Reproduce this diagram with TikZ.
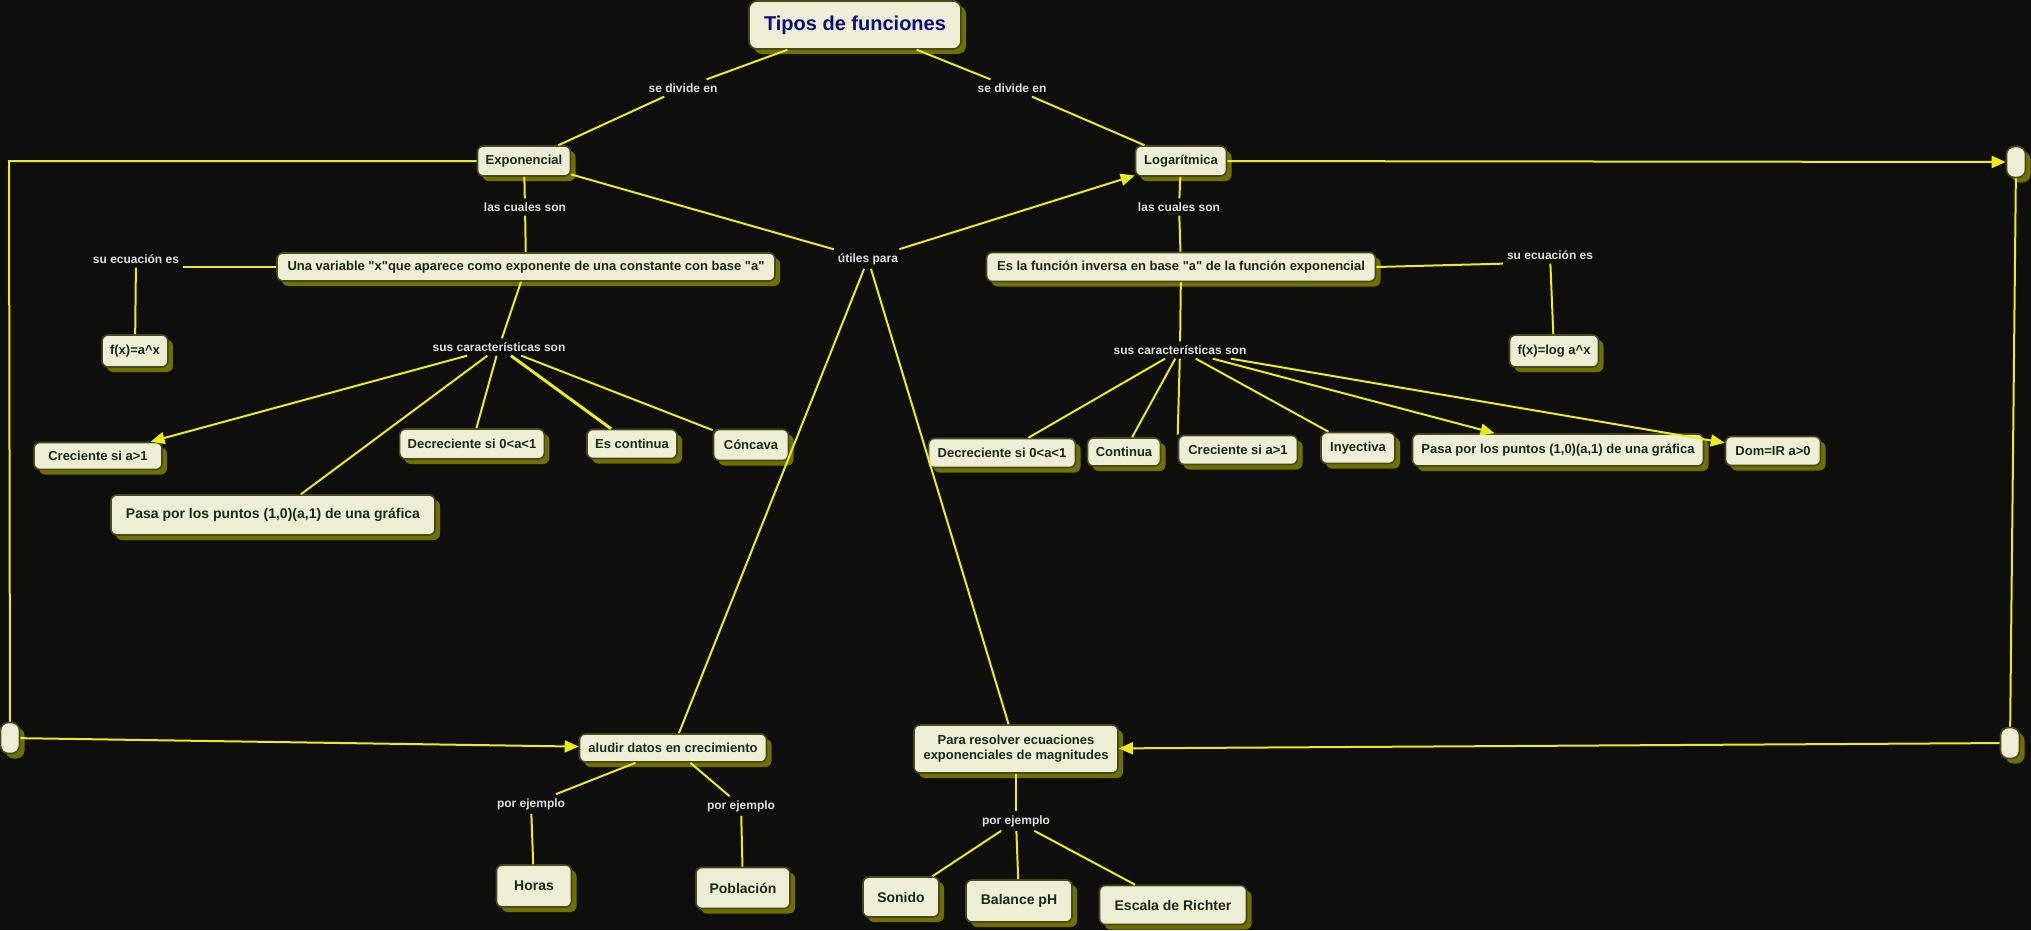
\documentclass[tikz,border=0pt]{standalone}
\usepackage{fontspec}
\defaultfontfeatures{Ligatures=TeXOff}
\setmainfont{Liberation Sans}[Ligatures=TeXOff]
\usetikzlibrary{arrows.meta,shadows}
\definecolor{fondoNegro}  {RGB}{14,  14,  12}
\definecolor{lineaAmarilla}{RGB}{236, 236, 24}
\definecolor{cajaFondo}   {RGB}{238, 238, 214}
\definecolor{cajaBorde}   {RGB}{72,  72,  24}
\definecolor{cajaSombra}  {RGB}{112, 112, 0}
\definecolor{textoVerde}  {RGB}{22,  44,  22}
\definecolor{textoGris}   {RGB}{222, 222, 222}
\definecolor{tituloAzul}  {RGB}{12,  12,  128}

\begin{document}
\begin{tikzpicture}[x=1pt,y=-1pt,
    concepto/.style={draw=cajaBorde,line width=1.6pt,fill=cajaFondo,rounded corners=6pt,
      text=textoVerde,font=\bfseries\fontsize{13}{15}\selectfont,
      inner xsep=8pt,inner ysep=2pt,minimum height=28pt,
      general shadow={shadow xshift=5pt,shadow yshift=-5pt,fill=cajaSombra,draw=none}},
    grande/.style={concepto,font=\bfseries\fontsize{14}{16}\selectfont,minimum height=40pt},
    pildora/.style={concepto,minimum width=19pt,minimum height=31pt,inner sep=0pt,rounded corners=8pt},
    enlace/.style={text=textoGris,font=\bfseries\fontsize{12}{14}\selectfont,inner sep=4pt},
    linea/.style={draw=lineaAmarilla,line width=2pt},
    flecha/.style={linea,-{Triangle[length=14pt,width=12pt]}}]

    % ─── Fondo ────────────────────────────────────────────
    \fill[fondoNegro] (0,0) rectangle (2031,930);
    \useasboundingbox (0,0) rectangle (2031,930);

    % ─── Titulo ───────────────────────────────────────────
    \node[concepto,text=tituloAzul,font=\bfseries\fontsize{20}{24}\selectfont,
          minimum width=212pt,minimum height=48pt,rounded corners=8pt] (titulo) at (855,25){Tipos de funciones};
    \node[enlace] (divL) at (683,88){se divide en};
    \node[enlace] (divR) at (1012,88){se divide en};

    % ─── Rama exponencial ─────────────────────────────────
    \node[concepto,minimum width=93pt,minimum height=30pt] (expo) at (524,161){Exponencial};
    \node[enlace] (cualesL) at (525,207){las cuales son};
    \node[concepto,minimum width=498pt] (variable) at (526,267)
      {Una variable "x"que aparece como exponente de una constante con base "a"};
    \node[enlace] (ecuaL) at (136,259){su ecuación es};
    \node[concepto,minimum width=62pt,minimum height=32pt] (fxa) at (135,351){f(x)=a\textasciicircum x};
    \node[enlace] (caracL) at (499,347){sus características son};
    \node[concepto,minimum width=128pt,minimum height=27pt] (crecL) at (98,456){Creciente si a>1};
    \node[grande,minimum width=324pt] (pasaL) at (273,515){Pasa por los puntos (1,0)(a,1) de una gráfica};
    \node[concepto,minimum width=144pt,minimum height=30pt] (decrL) at (472,444){Decreciente si 0<a<1};
    \node[concepto,minimum width=90pt,minimum height=29pt] (continua) at (632,444){Es continua};
    \node[concepto,minimum width=75pt,minimum height=31pt] (concava) at (751,445){Cóncava};

    % ─── Rama logaritmica ─────────────────────────────────
    \node[concepto,minimum width=91pt,minimum height=30pt] (loga) at (1181,161){Logarítmica};
    \node[enlace] (cualesR) at (1179,207){las cuales son};
    \node[concepto,minimum width=389pt,minimum height=29pt] (inversa) at (1181,267)
      {Es la función inversa en base "a" de la función exponencial};
    \node[enlace] (ecuaR) at (1550,255){su ecuación es};
    \node[concepto,minimum width=88pt,minimum height=32pt] (fxlog) at (1554,351){f(x)=log a\textasciicircum x};
    \node[enlace] (caracR) at (1180,350){sus características son};
    \node[concepto,minimum width=147pt,minimum height=29pt] (decrR) at (1002,453){Decreciente si 0<a<1};
    \node[concepto,minimum width=73pt] (contR) at (1124,452){Continua};
    \node[concepto,minimum width=119pt,minimum height=29pt] (crecR) at (1238,450){Creciente si a>1};
    \node[concepto,minimum width=74pt,minimum height=31pt] (inyec) at (1358,448){Inyectiva};
    \node[concepto,minimum width=291pt,minimum height=32pt] (pasaR) at (1558,450){Pasa por los puntos (1,0)(a,1) de una gráfica};
    \node[concepto,minimum width=95pt,minimum height=29pt] (dominio) at (1773,451){Dom=IR a>0};

    % ─── Aplicaciones ─────────────────────────────────────
    \node[enlace] (utiles) at (868,259){útiles para};
    \node[concepto,minimum width=187pt] (aludir) at (673,748){aludir datos en crecimiento};
    \node[concepto,minimum width=204pt,minimum height=48pt,align=center] (resolver) at (1016,749)
      {Para resolver ecuaciones\\exponenciales de magnitudes};
    \node[enlace] (ejemL) at (531,804){por ejemplo};
    \node[enlace] (ejemR) at (741,806){por ejemplo};
    \node[enlace] (ejemB) at (1016,821){por ejemplo};
    \node[grande,minimum width=75pt,minimum height=42pt] (horas) at (534,886){Horas};
    \node[grande,minimum width=94pt,minimum height=41pt] (poblacion) at (743,888){Población};
    \node[grande,minimum width=76pt] (sonido) at (901,897){Sonido};
    \node[grande,minimum width=106pt,minimum height=42pt] (balance) at (1019,901){Balance pH};
    \node[grande,minimum width=147pt,minimum height=39pt] (richter) at (1173,905){Escala de Richter};

    % ─── Nodos laterales ──────────────────────────────────
    \node[pildora] (latTR) at (2016,162){};
    \node[pildora] (latBR) at (2010,743){};
    \node[pildora] (latL) at (10,738){};
    \coordinate (esquinaL) at (9,161);

    % ─── Conexiones ───────────────────────────────────────
    \draw[linea] (titulo) -- (divL);
    \draw[linea] (divL) -- (expo);
    \draw[linea] (titulo) -- (divR);
    \draw[linea] (divR) -- (loga);

    \draw[linea] (expo) -- (cualesL);
    \draw[linea] (cualesL) -- (variable);
    \draw[linea] (variable.west) -- (variable.west -| ecuaL.east);
    \draw[linea] (ecuaL) -- (fxa);
    \draw[linea] (variable) -- (caracL);
    \draw[flecha] (caracL) -- (crecL);
    \foreach \destino in {pasaL, decrL, concava}{
      \draw[linea] (caracL) -- (\destino);
    }
    \draw[linea,line width=3pt] (caracL) -- (continua);

    \draw[linea] (loga) -- (cualesR);
    \draw[linea] (cualesR) -- (inversa);
    \draw[linea] (inversa.east) -- (ecuaR.south west);
    \draw[linea] (ecuaR) -- (fxlog);
    \draw[linea] (inversa) -- (caracR);
    \foreach \destino in {decrR, contR, inyec}{
      \draw[linea] (caracR) -- (\destino);
    }
    \draw[linea] (caracR) -- (crecR.north west);
    \draw[flecha] (caracR) -- (pasaR);
    \draw[flecha] (caracR) -- (dominio);

    \draw[linea] (expo) -- (utiles);
    \draw[flecha] (utiles) -- (loga);
    \draw[linea] (utiles) -- (aludir);
    \draw[linea] (utiles) -- (resolver);

    \draw[linea] (aludir) -- (ejemL);
    \draw[linea] (aludir) -- (ejemR);
    \draw[linea] (ejemL) -- (horas);
    \draw[linea] (ejemR) -- (poblacion);
    \draw[linea] (resolver) -- (ejemB);
    \foreach \destino in {sonido, balance, richter}{
      \draw[linea] (ejemB) -- (\destino);
    }

    % Laterales
    \draw[flecha] (loga) -- (latTR);
    \draw[linea] (latTR) -- (latBR);
    \draw[flecha] (latBR) -- (resolver);
    \draw[linea] (expo) -- (esquinaL) -- (latL);
    \draw[flecha] (latL) -- (aludir);

\end{tikzpicture}
\end{document}
